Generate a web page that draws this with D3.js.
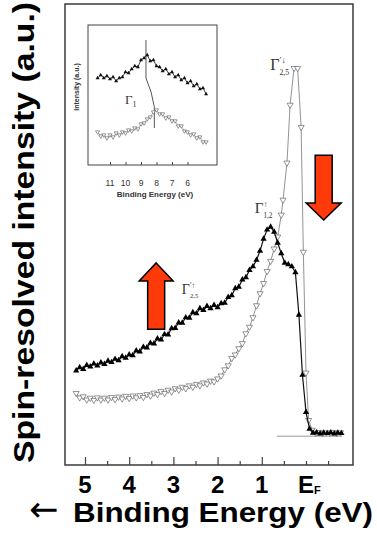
<!DOCTYPE html>
<html>
<head>
<meta charset="utf-8">
<script src="https://cdn.jsdelivr.net/npm/d3@7"></script>
<style>
  body { margin: 0; background: #fff; }
  svg { display: block; }
</style>
</head>
<body>
<svg width="377" height="546"></svg>
<script>
// ---- values ----
// main panel: binding energy (eV) and spin-resolved intensity (a.u.)
const energyUp = [5.20,5.12,5.04,4.96,4.88,4.80,4.72,4.64,4.56,4.48,4.40,4.32,4.24,4.16,4.08,4.00,3.92,3.84,3.76,3.68,
  3.60,3.52,3.44,3.36,3.28,3.20,3.12,3.04,2.96,2.88,2.80,2.72,2.64,2.56,2.48,2.40,2.32,2.24,2.16,2.08,
  2.00,1.92,1.84,1.76,1.68,1.60,1.52,1.44,1.36,1.28,1.20,1.12,1.04,0.96,0.88,0.80,0.72,0.64,0.56,0.48,
  0.40,0.32,0.24,0.16,0.08,0.00,-0.08,-0.16,-0.24,-0.32,-0.40,-0.48,-0.56,-0.64,-0.72,-0.80];
const intensityUp = [17.4,18.3,17.8,18.9,18.5,19.3,18.8,19.6,19.2,20.1,19.7,20.6,20.2,21.3,20.9,21.8,21.6,22.9,22.6,23.9,
  23.7,25.0,24.8,26.2,25.9,27.4,27.3,29.0,29.1,30.6,30.5,32.0,31.9,33.4,33.1,34.5,34.0,35.1,34.5,35.4,
  34.8,35.9,36.0,37.6,38.1,40.0,40.4,42.4,43.0,45.0,46.0,47.8,50.3,53.6,56.1,56.9,55.5,52.5,49.6,47.0,
  46.6,46.0,44.4,32.7,16.2,6.0,1.4,0.3,0.4,0.1,0.3,0.2,0.4,0.1,0.3,0.2];

const energyDown = [5.20,5.12,5.04,4.96,4.88,4.80,4.72,4.64,4.56,4.48,4.40,4.32,4.24,4.16,4.08,4.00,3.92,3.84,3.76,3.68,
  3.60,3.52,3.44,3.36,3.28,3.20,3.12,3.04,2.96,2.88,2.80,2.72,2.64,2.56,2.48,2.40,2.32,2.24,2.16,2.08,
  2.00,1.92,1.84,1.76,1.68,1.60,1.52,1.44,1.36,1.28,1.20,1.12,1.04,0.96,0.88,0.80,0.72,0.64,0.56,
  0.52,0.43,0.36,0.27,0.19,0.11,0.06,0.00,-0.06,-0.14,-0.22,-0.30,-0.38,-0.46,-0.54,-0.62,-0.70,-0.78];
const intensityDown = [11.2,10.0,10.3,9.4,9.9,9.3,10.0,9.4,9.9,9.4,10.1,9.5,10.2,9.7,10.4,9.8,10.5,10.0,10.6,10.1,
  10.9,10.5,11.3,10.9,11.7,11.2,12.1,11.6,12.5,12.1,12.9,12.5,13.3,12.9,13.7,13.3,14.1,13.8,14.6,14.4,
  15.2,16.0,17.7,18.8,20.8,21.8,23.5,24.9,27.6,29.4,32.0,35.3,38.6,41.4,44.7,47.5,50.9,54.2,60.2,
  64.3,74.5,90.4,100.5,100.5,84.3,50.0,16.8,3.8,1.1,0.3,0.5,0.2,0.4,0.3,0.5,0.2,0.4];

const majorTicks = [5, 4, 3, 2, 1];
const minorTicks = [4.5, 3.5, 2.5, 1.5, 0.5, 0, -0.5];
const tickLabels = ["5", "4", "3", "2", "1"];

// inset: Gamma_1 region
const insetEnergy = [11.8,11.6,11.4,11.2,11.0,10.8,10.6,10.4,10.2,10.0,9.8,9.6,9.4,9.2,9.0,8.8,8.6,8.4,
  8.2,8.0,7.8,7.6,7.4,7.2,7.0,6.8,6.6,6.4,6.2,6.0,5.8,5.6,5.4,5.2,5.0,4.8];
const insetUpper = [82,85,82,84,81,83,79,82,83,88,87,91,94,93,100,102,105,99,
  100,94,93,89,91,86,88,83,85,80,82,77,79,74,76,71,72,66];
const insetLower = [28,24,25,22,25,23,27,25,28,27,30,29,32,31,36,37,41,43,
  48,50,46,46,42,43,39,39,34,34,29,28,25,26,22,23,18,18];
const insetTicks = [11, 10, 9, 8, 7, 6];
const insetTrackE = [8.68, 8.68, 8.35, 8.14, 8.14];
const insetTrackI = [120, 82, 68, 53, 32];

const svg = d3.select("svg");
const frame = { left: 65, top: 4, right: 353, bottom: 465 };

const x = d3.scaleLinear().domain([5, 0]).range([85, 306]);
const y = d3.scaleLinear().domain([0, 100]).range([434, 70]);

const up = energyUp.map((e, i) => [e, intensityUp[i]]);
const down = energyDown.map((e, i) => [e, intensityDown[i]]);
const line = d3.line().x(d => x(d[0])).y(d => y(d[1]));

// frame
svg.append("rect")
  .attr("x", frame.left).attr("y", frame.top)
  .attr("width", frame.right - frame.left).attr("height", frame.bottom - frame.top)
  .attr("fill", "none").attr("stroke", "#3a3a3a").attr("stroke-width", 1.5);

// ticks, pointing inward
const axisG = svg.append("g").attr("transform", `translate(0,${frame.bottom})`);
axisG.append("g").call(d3.axisBottom(x).tickValues(majorTicks).tickSize(-8).tickFormat(""));
axisG.append("g").call(d3.axisBottom(x).tickValues(minorTicks).tickSize(-4).tickFormat(""));
axisG.selectAll(".domain").remove();
axisG.selectAll("line").attr("stroke", "#444").attr("stroke-width", 1.2);

const bold = "'Liberation Sans', Arial, Helvetica, sans-serif";
svg.append("g").selectAll("text").data(majorTicks).join("text")
  .attr("x", d => x(d)).attr("y", 493)
  .attr("text-anchor", "middle")
  .attr("font-family", bold).attr("font-weight", "bold").attr("font-size", 24)
  .text((d, i) => tickLabels[i]);
const ef = svg.append("text")
  .attr("x", x(0) - 8).attr("y", 493)
  .attr("font-family", bold).attr("font-weight", "bold").attr("font-size", 24);
ef.append("tspan").text("E");
ef.append("tspan").attr("font-size", 11).attr("dy", 1).text("F");

svg.append("text")
  .attr("x", 29).attr("y", 521)
  .attr("font-family", "'DejaVu Sans', sans-serif").attr("font-size", 35)
  .text("\u2190");
svg.append("text")
  .attr("x", 73).attr("y", 522)
  .attr("font-family", bold).attr("font-weight", "bold").attr("font-size", 27)
  .attr("textLength", 300).attr("lengthAdjust", "spacingAndGlyphs")
  .text("Binding Energy (eV)");

svg.append("text")
  .attr("transform", "translate(34,463) rotate(-90)")
  .attr("font-family", bold).attr("font-weight", "bold").attr("font-size", 29)
  .attr("textLength", 461).attr("lengthAdjust", "spacingAndGlyphs")
  .text("Spin-resolved intensity (a.u.)");

// baseline reference line past E_F
svg.append("line")
  .attr("x1", x(0.66)).attr("x2", x(-0.82))
  .attr("y1", y(-0.6)).attr("y2", y(-0.6))
  .attr("stroke", "#999").attr("stroke-width", 1);

// spin-down (open triangles)
svg.append("path").datum(down)
  .attr("d", line).attr("fill", "none").attr("stroke", "#777").attr("stroke-width", 0.8);
svg.append("g").selectAll("path").data(down).join("path")
  .attr("d", d3.symbol(d3.symbolTriangle, 16))
  .attr("transform", d => `translate(${x(d[0])},${y(d[1])}) rotate(180)`)
  .attr("fill", "#fff").attr("stroke", "#666").attr("stroke-width", 0.7);

// spin-up (filled triangles)
svg.append("path").datum(up)
  .attr("d", line).attr("fill", "none").attr("stroke", "#111").attr("stroke-width", 1.2);
svg.append("g").selectAll("path").data(up).join("path")
  .attr("d", d3.symbol(d3.symbolTriangle, 17))
  .attr("transform", d => `translate(${x(d[0])},${y(d[1])})`)
  .attr("fill", "#000");

// band labels
const serif = "'Liberation Serif', 'DejaVu Serif', serif";
function gammaLabel(e, v, sup, sub, size) {
  const g = svg.append("g").attr("transform", `translate(${x(e)},${y(v)})`)
    .attr("font-family", serif).attr("fill", "#333");
  g.append("text").attr("font-size", size).text("\u0393");
  g.append("text").attr("x", size * 0.58).attr("y", -size * 0.42).attr("font-size", size * 0.55).text(sup);
  g.append("text").attr("x", size * 0.58).attr("y", size * 0.3).attr("font-size", size * 0.48).text(sub);
}
gammaLabel(0.81, 100, "\u2032\u2193", "2,5", 16);
gammaLabel(1.16, 60.7, "\u2191", "1,2", 15);
gammaLabel(2.81, 38.5, "\u2032\u2191", "2,5", 14);

// red spin arrows
function spinArrow(e, tip, tail, headW, headH, shaftW) {
  const cx = x(e), yt = y(tip), ye = y(tail);
  const dir = ye > yt ? 1 : -1;
  const yb = yt + dir * headH;
  const pts = [[cx, yt], [cx + headW / 2, yb], [cx + shaftW / 2, yb], [cx + shaftW / 2, ye],
    [cx - shaftW / 2, ye], [cx - shaftW / 2, yb], [cx - headW / 2, yb]];
  svg.append("path").attr("d", d3.line()(pts) + "Z")
    .attr("fill", "#ff3a0a").attr("stroke", "#000").attr("stroke-width", 1.5)
    .attr("stroke-linejoin", "miter");
}
spinArrow(3.39, 47.0, 28.8, 34, 18, 17);
spinArrow(-0.40, 58.8, 76.6, 35, 17, 17);

// ---- inset ----
const inset = { left: 88, top: 25, right: 217, bottom: 165 };
const ix = d3.scaleLinear().domain([9, 8]).range([141, 156.5]);
const iy = d3.scaleLinear().domain([0, 130]).range([160, 30]);
const ig = svg.append("g");
ig.append("rect")
  .attr("x", inset.left).attr("y", inset.top)
  .attr("width", inset.right - inset.left).attr("height", inset.bottom - inset.top)
  .attr("fill", "#fff").attr("stroke", "#444").attr("stroke-width", 1);
const iAxis = ig.append("g").attr("transform", `translate(0,${inset.bottom})`);
iAxis.call(d3.axisBottom(ix).tickValues(insetTicks).tickSize(-3).tickFormat(""));
iAxis.select(".domain").remove();
iAxis.selectAll("line").attr("stroke", "#444");
const sans = "'Liberation Sans', Arial, sans-serif";
ig.append("g").selectAll("text").data(insetTicks).join("text")
  .attr("x", d => ix(d)).attr("y", 186)
  .attr("text-anchor", "middle").attr("font-family", sans).attr("font-size", 8.5).attr("fill", "#333")
  .text(d => d);
ig.append("text").attr("x", 155).attr("y", 197)
  .attr("text-anchor", "middle").attr("font-family", sans).attr("font-weight", "bold")
  .attr("font-size", 8).attr("fill", "#333").text("Binding Energy (eV)");
ig.append("text").attr("transform", "translate(79,87) rotate(-90)")
  .attr("text-anchor", "middle").attr("font-family", sans).attr("font-weight", "bold")
  .attr("font-size", 7).attr("fill", "#333").text("Intensity (a.u.)");

const iUp = insetEnergy.map((e, i) => [e, insetUpper[i]]);
const iDn = insetEnergy.map((e, i) => [e, insetLower[i]]);
const iLine = d3.line().x(d => ix(d[0])).y(d => iy(d[1]));
ig.append("path").datum(insetTrackE.map((e, i) => [e, insetTrackI[i]]))
  .attr("d", iLine).attr("fill", "none").attr("stroke", "#555").attr("stroke-width", 1);
ig.append("path").datum(iDn).attr("d", iLine).attr("fill", "none").attr("stroke", "#888").attr("stroke-width", 0.6);
ig.append("g").selectAll("path").data(iDn).join("path")
  .attr("d", d3.symbol(d3.symbolTriangle, 7))
  .attr("transform", d => `translate(${ix(d[0])},${iy(d[1])}) rotate(180)`)
  .attr("fill", "#fff").attr("stroke", "#555").attr("stroke-width", 0.6);
ig.append("path").datum(iUp).attr("d", iLine).attr("fill", "none").attr("stroke", "#111").attr("stroke-width", 0.8);
ig.append("g").selectAll("path").data(iUp).join("path")
  .attr("d", d3.symbol(d3.symbolTriangle, 7))
  .attr("transform", d => `translate(${ix(d[0])},${iy(d[1])})`)
  .attr("fill", "#111");
const g1 = ig.append("text").attr("x", 125).attr("y", 104)
  .attr("font-family", serif).attr("font-size", 13).attr("fill", "#333");
g1.append("tspan").text("\u0393");
g1.append("tspan").attr("font-size", 8).attr("dy", 3).text("1");
</script>
</body>
</html>
